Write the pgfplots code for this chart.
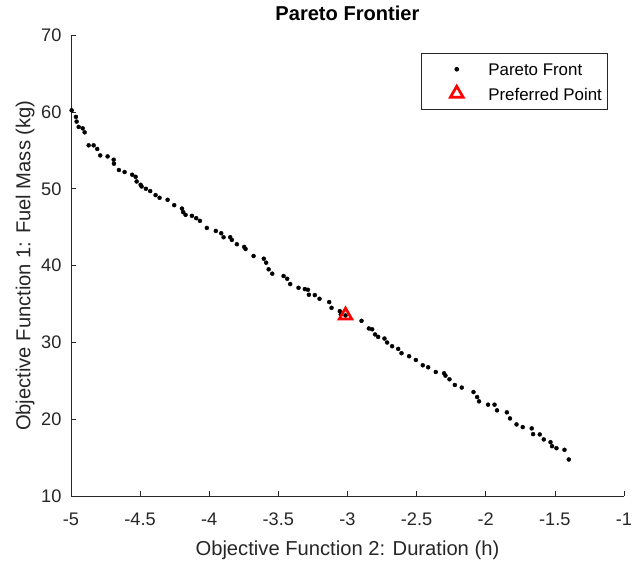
\documentclass[border=0pt]{standalone}
\usepackage{fontspec}
\setmainfont{Liberation Sans}
\usepackage{pgfplots}
\pgfplotsset{compat=1.18}
\definecolor{axgray}{rgb}{0.15,0.15,0.15}
\begin{document}
\begin{tikzpicture}
\path (-71pt,-66.3pt) rectangle (561pt,496.7pt);
\begin{axis}[
  at={(0pt,0pt)}, anchor=south west,
  width=553.3pt, height=461.7pt, scale only axis,
  xmin=-5, xmax=-1, ymin=10, ymax=70,
  axis lines=left,
  axis line style={-, draw=axgray, line width=0.6pt},
  xtick={-5,-4.5,-4,-3.5,-3,-2.5,-2,-1.5,-1},
  xticklabels={-5,-4.5,-4,-3.5,-3,-2.5,-2,-1.5,-1},
  ytick={10,20,30,40,50,60,70},
  yticklabels={10,20,30,40,50,60,70},
  tick align=inside, major tick length=5.5pt,
  tick style={draw=axgray, line width=0.6pt},
  xticklabel style={font=\fontsize{18.2}{20}\selectfont, text=axgray, anchor=base, inner sep=0pt, yshift=-29.3pt},
  yticklabel style={font=\fontsize{18.2}{20}\selectfont, text=axgray, anchor=east, inner sep=0pt, xshift=-9.3pt},
  title={Pareto Frontier},
  title style={at={(axis description cs:0.5,1)}, anchor=base, yshift=8.3pt, inner sep=0pt, font=\bfseries\fontsize{20.1}{24}\selectfont, text=black},
  xlabel={Objective Function 2: Duration (h)},
  xlabel style={at={(axis description cs:0.5,-0.1284)}, anchor=base, inner sep=0pt, font=\fontsize{20.2}{24}\selectfont, text=axgray},
  ylabel={Objective Function 1: Fuel Mass (kg)},
  ylabel style={at={(axis description cs:-0.0736,0.5)}, rotate=0, anchor=base, inner sep=0pt, font=\fontsize{20.2}{24}\selectfont, text=axgray},
  clip=false,
  legend style={at={(0.9711,0.9604)}, anchor=north east, draw=axgray, line width=0.6pt, fill=white,
    inner xsep=5.7pt, inner ysep=5.4pt, font=\fontsize{16.9}{20}\selectfont, text=black,
    row sep=3.7pt, nodes={inner sep=0pt, text height=17pt, text depth=3.6pt}},
  legend cell align=left,
  legend image code/.code={\path[draw=none, fill=none] (-30pt,-6.1pt) rectangle (31.6pt,6.1pt); \draw[#1] plot coordinates {(0pt,0pt)};},
]
\addplot[only marks, mark=*, mark size=2pt, mark options={draw=none, fill=black}] table {
x y
-4.995 60.21
-4.964 59.35
-4.959 58.74
-4.944 58.04
-4.915 57.86
-4.901 57.34
-4.872 55.65
-4.836 55.65
-4.810 55.18
-4.788 54.34
-4.735 54.21
-4.691 53.78
-4.689 53.26
-4.653 52.44
-4.612 52.18
-4.557 51.83
-4.532 51.56
-4.525 50.95
-4.496 50.52
-4.489 50.30
-4.458 50.00
-4.427 49.70
-4.388 49.18
-4.359 48.83
-4.301 48.57
-4.253 47.87
-4.197 47.43
-4.188 46.96
-4.171 46.61
-4.125 46.48
-4.094 46.18
-4.067 45.83
-4.017 44.91
-3.952 44.52
-3.913 44.22
-3.896 43.70
-3.848 43.70
-3.836 43.35
-3.800 42.79
-3.747 42.44
-3.737 42.18
-3.679 41.26
-3.605 40.91
-3.588 40.39
-3.570 39.53
-3.544 38.96
-3.462 38.66
-3.436 38.30
-3.414 37.61
-3.354 37.13
-3.308 36.96
-3.286 36.87
-3.279 36.22
-3.236 36.18
-3.202 35.70
-3.132 35.27
-3.115 34.52
-3.055 34.09
-3.048 33.66
-3.014 33.53
-2.898 32.83
-2.845 31.84
-2.821 31.73
-2.800 31.06
-2.778 30.74
-2.732 30.53
-2.713 30.01
-2.677 29.53
-2.633 29.18
-2.609 28.62
-2.554 28.23
-2.505 27.74
-2.455 27.05
-2.416 26.79
-2.361 26.18
-2.301 26.01
-2.291 25.71
-2.262 25.23
-2.223 24.49
-2.173 24.15
-2.088 23.57
-2.062 22.92
-2.048 22.36
-1.983 21.93
-1.936 21.93
-1.918 21.19
-1.847 20.93
-1.824 20.14
-1.777 19.36
-1.732 19.01
-1.667 18.84
-1.657 18.10
-1.609 18.06
-1.580 17.41
-1.531 17.05
-1.520 16.53
-1.488 16.27
-1.430 16.06
-1.399 14.80
};
\addlegendentry{Pareto Front}
\addplot[only marks, mark=triangle, mark size=7.3pt, mark options={draw=red, fill=none, line width=2.7pt, line join=miter}] coordinates {(-3.014,33.53)};
\addlegendentry{Preferred Point}
\end{axis}
\end{tikzpicture}
\end{document}
